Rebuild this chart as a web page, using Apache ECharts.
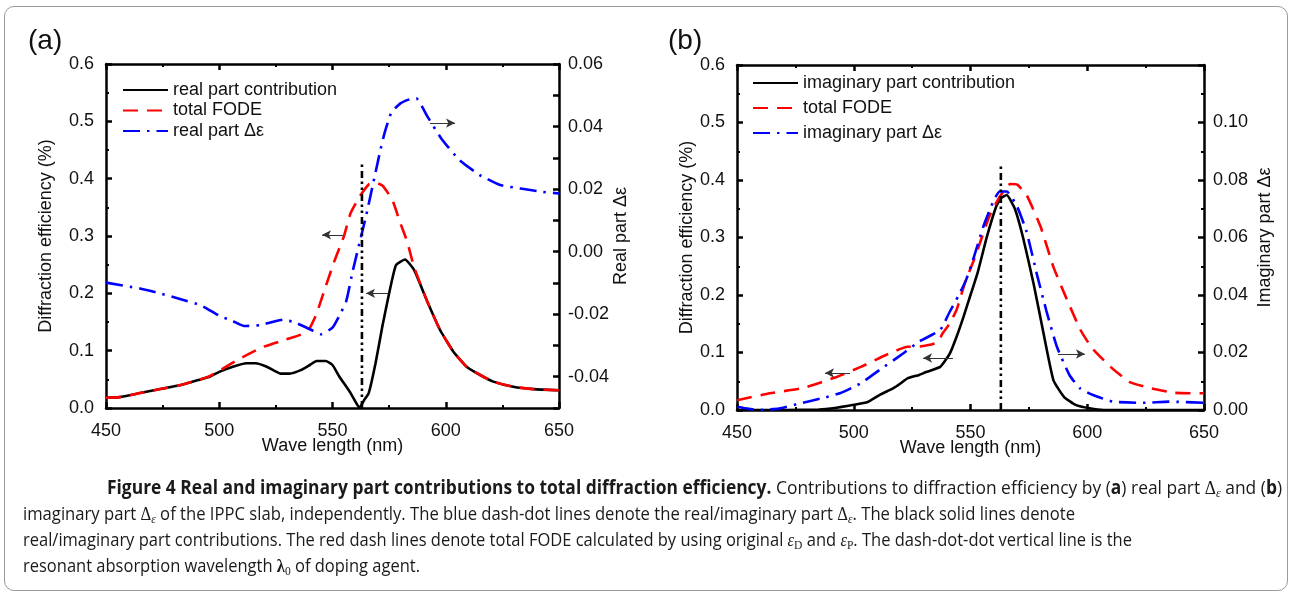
<!DOCTYPE html>
<html>
<head>
<meta charset="utf-8">
<script src="https://cdn.jsdelivr.net/npm/echarts@6/dist/echarts.min.js"></script>
<style>
  html, body { margin:0; padding:0; background:#fff; }
  #wrap { position:relative; width:1294px; height:595px; overflow:hidden; }
  #chart { position:absolute; left:0; top:0; width:1294px; height:595px; }
  #frame { position:absolute; left:4px; top:6px; width:1284px; height:585px; border:1px solid #9a9a9a; border-radius:10px; box-sizing:border-box; }
  .cap { position:absolute; white-space:nowrap; font-family:'Liberation Sans Narrow','Open Sans','Noto Sans',sans-serif; font-size:19px; line-height:26px; color:#1a1a1a; transform-origin:0 50%; }
  .cap b { font-weight:700; }
  .sym { font-family:'Liberation Serif','DejaVu Serif',serif; }
  .sym i { font-style:italic; }
  sub { font-size:70%; vertical-align:-3px; line-height:0; }
</style>
</head>
<body>
<div id="wrap">
  <div id="frame"></div>
  <div id="chart"></div>
  <div class="cap" data-w="1175" style="left:107px; top:474px;"><b>Figure 4 Real and imaginary part contributions to total diffraction efficiency.</b> Contributions to diffraction efficiency by (<b>a</b>) real part <span class="sym">Δ<sub><i>ε</i></sub></span> and (<b>b</b>)</div>
  <div class="cap" data-w="1052" style="left:23px; top:500px;">imaginary part <span class="sym">Δ<sub><i>ε</i></sub></span> of the IPPC slab, independently. The blue dash-dot lines denote the real/imaginary part <span class="sym">Δ<sub><i>ε</i></sub></span>. The black solid lines denote</div>
  <div class="cap" data-w="1109" style="left:23px; top:526px;">real/imaginary part contributions. The red dash lines denote total FODE calculated by using original <span class="sym"><i>ε</i><sub>D</sub></span> and <span class="sym"><i>ε</i><sub>P</sub></span>. The dash-dot-dot vertical line is the</div>
  <div class="cap" style="left:23px; top:552px;">resonant absorption wavelength <span class="sym"><b>λ</b><sub>0</sub></span> of doping agent.</div>
</div>
<script>
// ---------- data ----------
const xTicks = [450, 500, 550, 600, 650];
const lambda0 = 563;
const lambda0Top = 0.425;

// Panel (a)
const aContribX = [450, 456, 465, 474, 483, 491, 496, 500, 506, 512, 516, 521, 527, 531, 536, 540, 543, 547, 550, 553, 558, 561, 562, 564, 566, 569, 572, 575, 578, 582, 586, 591.6, 597.5, 603.4, 609.2, 615, 621, 629.8, 638.7, 650];
const aContribY = [0.018, 0.019, 0.026, 0.033, 0.040, 0.049, 0.055, 0.063, 0.072, 0.078, 0.078, 0.072, 0.060, 0.060, 0.066, 0.075, 0.082, 0.082, 0.075, 0.055, 0.026, 0.005, 0.001, 0.014, 0.026, 0.078, 0.142, 0.200, 0.249, 0.259, 0.241, 0.188, 0.136, 0.098, 0.072, 0.058, 0.046, 0.037, 0.033, 0.031];
const aTotalX = [450, 456, 465, 474, 483, 491, 496, 500, 509, 519, 529, 536, 540, 543, 547, 551, 555, 558, 562, 566, 569, 572, 575, 577, 580, 583, 586, 591.6, 597.5, 603.4, 609.2, 615, 621, 629.8, 638.7, 650];
const aTotalY = [0.018, 0.019, 0.026, 0.033, 0.040, 0.049, 0.056, 0.065, 0.086, 0.106, 0.119, 0.128, 0.140, 0.165, 0.212, 0.258, 0.299, 0.340, 0.369, 0.390, 0.393, 0.388, 0.372, 0.357, 0.322, 0.290, 0.246, 0.188, 0.136, 0.098, 0.072, 0.058, 0.046, 0.037, 0.033, 0.031];
const aDeltaX = [450, 465, 474, 483, 492, 500, 506, 511, 518, 524, 528, 533, 540, 545, 550, 553, 556, 559, 562, 565, 568, 571, 573, 576, 580, 584, 587, 592, 598, 606, 615, 624, 633, 643, 650];
const aDeltaY = [-0.0099, -0.0118, -0.0134, -0.0152, -0.0172, -0.0205, -0.0222, -0.0238, -0.0235, -0.0224, -0.0218, -0.0225, -0.0248, -0.0264, -0.0243, -0.0205, -0.0160, -0.0060, 0.0030, 0.0120, 0.0220, 0.0320, 0.0380, 0.0445, 0.0474, 0.0487, 0.0490, 0.0431, 0.0362, 0.0293, 0.0245, 0.0213, 0.0202, 0.0191, 0.0186];
const aLeftTicks = [0, 0.1, 0.2, 0.3, 0.4, 0.5, 0.6];
const aRightTicks = [-0.04, -0.02, 0, 0.02, 0.04, 0.06];
// arrows: [from x, to x, y on left axis]
const aArrows = [[554.6, 545.4, 0.302], [574.5, 564.8, 0.200], [593.0, 604.1, 0.497]];

// Panel (b)
const bContribX = [450, 470, 485, 491, 500, 506, 511, 517, 520, 523, 528, 531, 537, 541, 544, 547, 550, 553, 557, 561, 563, 565.5, 569, 572.5, 577, 581, 585.5, 590, 595, 601, 607, 650];
const bContribY = [0, 0, 0.001, 0.003, 0.009, 0.014, 0.026, 0.038, 0.046, 0.055, 0.061, 0.066, 0.075, 0.097, 0.127, 0.162, 0.200, 0.238, 0.301, 0.354, 0.368, 0.374, 0.350, 0.300, 0.220, 0.139, 0.052, 0.023, 0.009, 0.003, 0, 0];
const bTotalX = [450, 464, 478, 493, 503, 514, 523, 527, 532, 536, 538, 541, 544, 548, 551, 554, 558, 562.5, 567, 570, 574, 580, 585.5, 591, 597, 602, 610, 618, 627, 637, 650];
const bTotalY = [0.017, 0.029, 0.038, 0.058, 0.075, 0.096, 0.110, 0.110, 0.113, 0.118, 0.133, 0.150, 0.174, 0.226, 0.256, 0.290, 0.336, 0.371, 0.393, 0.392, 0.374, 0.319, 0.249, 0.195, 0.140, 0.108, 0.075, 0.049, 0.038, 0.030, 0.029];
const bDeltaX = [450, 455, 460, 468, 477, 486, 494, 503, 511, 520, 528, 537, 541, 545, 548, 551, 555.5, 560, 562.5, 565.5, 570, 574, 578.5, 582.5, 587, 592.5, 597, 602.5, 611, 624, 635, 650];
const bDeltaY = [0.0011, 0.0004, 0, 0.0005, 0.0023, 0.0040, 0.0058, 0.0093, 0.0139, 0.0190, 0.0238, 0.0278, 0.0340, 0.0400, 0.0450, 0.0520, 0.0638, 0.0730, 0.0760, 0.0760, 0.0707, 0.0620, 0.0470, 0.0345, 0.0220, 0.0120, 0.0075, 0.0052, 0.0029, 0.0025, 0.0029, 0.0025];
const bLeftTicks = [0, 0.1, 0.2, 0.3, 0.4, 0.5, 0.6];
const bRightTicks = [0, 0.02, 0.04, 0.06, 0.08, 0.10];
const bArrows = [[498.4, 487.7, 0.0643], [542.5, 529.7, 0.0904], [587.5, 599.0, 0.0974]];

// ---------- chart ----------
const FONT = "'Liberation Sans', Arial, Helvetica, sans-serif";
const TXT = '#111';
const pairs = (xs, ys) => xs.map((x, i) => [x, ys[i]]);

function xAx(grid, pos, showLabel, name) {
  return {
    type: 'value', gridIndex: grid, position: pos, min: xTicks[0], max: xTicks[xTicks.length - 1], interval: xTicks[1] - xTicks[0],
    name: name || '', nameLocation: 'middle', nameGap: 29, nameMoveOverlap: false,
    nameTextStyle: { fontSize: 18, color: TXT, fontFamily: FONT },
    axisLine: { show: true, onZero: false, lineStyle: { color: '#000', width: 2.5 } },
    axisTick: { show: true, inside: true, length: 6, lineStyle: { color: '#000', width: 2.5 } },
    minorTick: { show: true, splitNumber: 2, length: 3, lineStyle: { color: '#000', width: 2 } },
    axisLabel: { show: showLabel, fontSize: 18, color: TXT, margin: 14, fontFamily: FONT },
    splitLine: { show: false }, minorSplitLine: { show: false }
  };
}
function yAx(grid, pos, min, max, interval, name, gap, fmt, extra) {
  return Object.assign({
    type: 'value', gridIndex: grid, position: pos, min: min, max: max, interval: interval,
    name: name, nameLocation: 'middle', nameGap: gap, nameRotate: 90, nameMoveOverlap: false,
    nameTextStyle: { fontSize: 18, color: TXT, fontFamily: FONT },
    axisLine: { show: true, onZero: false, lineStyle: { color: '#000', width: 2.5 } },
    axisTick: { show: true, inside: true, length: 6, lineStyle: { color: '#000', width: 2.5 } },
    minorTick: { show: true, splitNumber: 2, length: 3, lineStyle: { color: '#000', width: 2 } },
    axisLabel: { show: true, fontSize: 18, color: TXT, margin: pos === 'left' ? 12 : 9, fontFamily: FONT, formatter: fmt },
    splitLine: { show: false }, minorSplitLine: { show: false }
  }, extra || {});
}

const solid = { color: '#000', width: 2.6, type: 'solid' };
const dashed = { color: '#ff0000', width: 2.6, type: [15, 9] };
const dashdot = { color: '#0000ff', width: 2.6, type: [17, 7, 2.5, 7] };
const vline = { color: '#000', width: 2.6, type: [7, 4, 2.5, 3.5, 2.5, 3.5] };

function lineS(name, xi, yi, data, style, z) {
  return { name: name, type: 'line', xAxisIndex: xi, yAxisIndex: yi, data: data, showSymbol: false, symbol: 'none',
    smooth: 0.15, lineStyle: style, itemStyle: { color: style.color }, z: z, animation: false, silent: true };
}
function arrowMark(arrows) {
  return {
    silent: true, animation: false, symbol: ['none', 'arrow'], symbolSize: [7, 9], precision: 4,
    label: { show: false }, emphasis: { disabled: true },
    lineStyle: { color: '#333', width: 1, type: 'solid' },
    data: arrows.map(a => [{ coord: [a[0], a[2]] }, { coord: [a[1], a[2]] }])
  };
}

const legendCommon = {
  orient: 'vertical', padding: 0, itemWidth: 45, itemHeight: 14, selectedMode: false,
  itemStyle: { opacity: 0, borderWidth: 0 },
  textStyle: { fontSize: 18, color: TXT, fontFamily: FONT }
};

const chart = echarts.init(document.getElementById('chart'), null, { renderer: 'canvas' });
const f1 = v => v.toFixed(1);
chart.setOption({
  animation: false,
  backgroundColor: 'transparent',
  textStyle: { fontFamily: FONT },
  grid: [
    { left: 106, top: 64, width: 453, height: 344 },
    { left: 737, top: 65, width: 467, height: 345 }
  ],
  xAxis: [
    xAx(0, 'bottom', true, 'Wave length (nm)'),
    xAx(0, 'top', false),
    xAx(1, 'bottom', true, 'Wave length (nm)'),
    xAx(1, 'top', false)
  ],
  yAxis: [
    yAx(0, 'left', aLeftTicks[0], aLeftTicks[aLeftTicks.length - 1], 0.1, 'Diffraction efficiency (%)', 51, f1),
    yAx(0, 'right', -0.05, aRightTicks[aRightTicks.length - 1], 0.01, 'Real part Δε', 53,
      v => (Math.abs(Math.round(v * 100)) % 2 === 0 ? (Math.abs(v) < 1e-9 ? '0.00' : v.toFixed(2)) : ''),
      { minorTick: { show: false } }),
    yAx(1, 'left', bLeftTicks[0], bLeftTicks[bLeftTicks.length - 1], 0.1, 'Diffraction efficiency (%)', 41, f1),
    yAx(1, 'right', 0, 0.12, 0.02, 'Imaginary part Δε', 52,
      v => (v > bRightTicks[bRightTicks.length - 1] + 1e-6 ? '' : v.toFixed(2)))
  ],
  legend: [
    Object.assign({ left: 122, top: 81, itemGap: 2.5, data: ['real part contribution', 'total FODE', 'real part Δε'] }, legendCommon),
    Object.assign({ left: 752, top: 74, itemGap: 7, data: ['imaginary part contribution', 'total FODE', 'imaginary part Δε'] }, legendCommon)
  ],
  graphic: [
    { type: 'text', left: 28, top: 27, style: { text: '(a)', fontSize: 28, fill: TXT, fontFamily: FONT } },
    { type: 'text', left: 668, top: 27, style: { text: '(b)', fontSize: 28, fill: TXT, fontFamily: FONT } }
  ],
  series: [
    lineS('real part contribution', 0, 0, pairs(aContribX, aContribY), solid, 2),
    lineS('total FODE', 0, 0, pairs(aTotalX, aTotalY), dashed, 3),
    lineS('real part Δε', 0, 1, pairs(aDeltaX, aDeltaY), dashdot, 4),
    Object.assign(lineS('λ0 (a)', 0, 0, [[lambda0, 0], [lambda0, lambda0Top]], vline, 5), { smooth: false, markLine: arrowMark(aArrows) }),
    lineS('imaginary part contribution', 2, 2, pairs(bContribX, bContribY), solid, 2),
    lineS('total FODE', 2, 2, pairs(bTotalX, bTotalY), dashed, 3),
    lineS('imaginary part Δε', 2, 3, pairs(bDeltaX, bDeltaY), dashdot, 4),
    Object.assign(lineS('λ0 (b)', 2, 2, [[lambda0, 0], [lambda0, lambda0Top]], vline, 5), { smooth: false, markLine: arrowMark(bArrows) })
  ]
});

// fit caption lines to their measured widths in the reference; the last line uses the scale of line 3
let lastScale = 1;
document.querySelectorAll('.cap').forEach(el => {
  const w = el.getBoundingClientRect().width;
  if (el.dataset.w && w > 0) lastScale = parseFloat(el.dataset.w) / w;
  el.style.transform = 'scaleX(' + lastScale.toFixed(4) + ')';
});
</script>
</body>
</html>
